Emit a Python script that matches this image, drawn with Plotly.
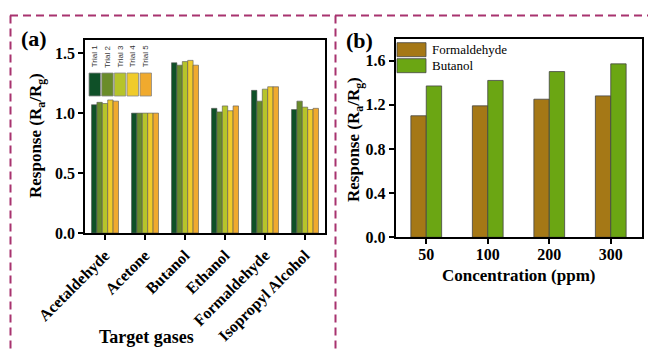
import plotly.graph_objects as go

# ---------------- data ----------------
gases = ["Acetaldehyde", "Acetone", "Butanol", "Ethanol", "Formaldehyde", "Isopropyl Alcohol"]
trial_names = ["Trial 1", "Trial 2", "Trial 3", "Trial 4", "Trial 5"]
trial1 = [1.07, 1.00, 1.42, 1.04, 1.19, 1.03]
trial2 = [1.09, 1.00, 1.40, 1.01, 1.10, 1.10]
trial3 = [1.08, 1.00, 1.43, 1.06, 1.20, 1.05]
trial4 = [1.11, 1.00, 1.44, 1.02, 1.22, 1.03]
trial5 = [1.10, 1.00, 1.40, 1.06, 1.22, 1.04]
trials = [trial1, trial2, trial3, trial4, trial5]
trial_colors = ["#0f5028", "#6a8c2a", "#b6c42a", "#f0cb2a", "#f0aa2e"]

concentrations = ["50", "100", "200", "300"]
formaldehyde = [1.10, 1.19, 1.25, 1.28]
butanol = [1.37, 1.42, 1.50, 1.57]
b_names = ["Formaldehyde", "Butanol"]
b_colors = ["#a57816", "#6ba613"]

W, H = 648, 353
def px(x):
    return x / W
def py(y):
    return 1 - y / H

SERIF = "Liberation Serif, Times New Roman, serif"
fig = go.Figure()

# panel (a) bars
bw_a = 0.135
start_a = -0.3375
for i, (vals, name, col) in enumerate(zip(trials, trial_names, trial_colors)):
    fig.add_trace(go.Bar(
        x=gases, y=vals, name=name, marker=dict(color=col, line=dict(color="#555555", width=0.6)),
        width=bw_a, offset=start_a + i * bw_a, xaxis="x", yaxis="y", showlegend=False))

# panel (b) bars
bw_b = 0.25
for i, (vals, name, col) in enumerate(zip([formaldehyde, butanol], b_names, b_colors)):
    fig.add_trace(go.Bar(
        x=concentrations, y=vals, name=name, marker=dict(color=col, line=dict(color="#444444", width=0.8)),
        width=bw_b, offset=-bw_b + i * bw_b, xaxis="x2", yaxis="y2", showlegend=False))

axis_common = dict(showline=True, linecolor="black", linewidth=1.5, mirror=True,
                   ticks="outside", ticklen=5, tickwidth=1.5, tickcolor="black",
                   showgrid=False, zeroline=False, automargin=False,
                   tickfont=dict(family=SERIF, size=16, color="black", weight="bold"))

fig.update_layout(
    template="none",
    width=W, height=H, margin=dict(l=0, r=0, t=0, b=0, pad=0), autosize=False,
    paper_bgcolor="white", plot_bgcolor="white",
    barmode="overlay", showlegend=False,
    xaxis=dict(domain=[px(85), px(325)], anchor="y", type="category", range=[-0.5, 5.5],
               tickangle=-45, **axis_common),
    yaxis=dict(domain=[py(233), py(40)], anchor="x", range=[0, 1.61], tickvals=[0, 0.5, 1.0, 1.5],
               tickformat=".1f", **axis_common),
    xaxis2=dict(domain=[px(395.5), px(641.5)], anchor="y2", type="category", range=[-0.5, 3.5],
                ticklabelstandoff=-3, **axis_common),
    yaxis2=dict(domain=[py(237.3), py(39)], anchor="x2", range=[0, 1.795], tickvals=[0, 0.4, 0.8, 1.2, 1.6],
                tickformat=".1f", **axis_common),
)

shapes = []
ann = []
# dashed frames
dash_col = "#a8336f"
for (x0, y0, x1, y1) in [(10, 15.5, 648, 15.5), (10.5, 15.5, 10.5, 353), (335.5, 15.5, 335.5, 353)]:
    shapes.append(dict(type="line", xref="paper", yref="paper", x0=px(x0), y0=py(y0), x1=px(x1), y1=py(y1),
                       line=dict(color=dash_col, width=2, dash="8px,5px")))

# legend (a): swatches + rotated labels
sw_x = [89, 101.7, 114.3, 127, 140]
for i, (name, col) in enumerate(zip(trial_names, trial_colors)):
    x0 = sw_x[i]
    shapes.append(dict(type="rect", xref="paper", yref="paper", x0=px(x0), x1=px(x0 + 11.5), y0=py(96), y1=py(73),
                       fillcolor=col, line=dict(color="#888888", width=0.8)))
    ann.append(dict(text=name, xref="paper", yref="paper", x=px(x0 + 5.75), y=py(56.5), showarrow=False,
                    textangle=-90, xanchor="center", yanchor="middle",
                    font=dict(family="Liberation Sans, Arial, sans-serif", size=8, color="#333333")))

# legend (b)
for i, (name, col) in enumerate(zip(b_names, b_colors)):
    top = 42.7 + i * 16
    shapes.append(dict(type="rect", xref="paper", yref="paper", x0=px(397), x1=px(426), y0=py(top + 14), y1=py(top),
                       fillcolor=col, line=dict(color="#444444", width=0.8)))
    ann.append(dict(text=name, xref="paper", yref="paper", x=px(430), y=py(top + 7), showarrow=False,
                    xanchor="left", yanchor="middle", font=dict(family=SERIF, size=13, color="black")))

title_font = dict(family=SERIF, size=17, color="black", weight="bold")
ann += [
    dict(text="(a)", xref="paper", yref="paper", x=px(34), y=py(38), showarrow=False, xanchor="center",
         yanchor="middle", font=dict(family=SERIF, size=22, color="black", weight="bold")),
    dict(text="(b)", xref="paper", yref="paper", x=px(359), y=py(40), showarrow=False, xanchor="center",
         yanchor="middle", font=dict(family=SERIF, size=22, color="black", weight="bold")),
    dict(text="Response (R<sub>a</sub>/R<sub>g</sub>)", xref="paper", yref="paper", x=px(37), y=py(136),
         showarrow=False, textangle=-90, xanchor="center", yanchor="middle", font=title_font),
    dict(text="Response (R<sub>a</sub>/R<sub>g</sub>)", xref="paper", yref="paper", x=px(355), y=py(140),
         showarrow=False, textangle=-90, xanchor="center", yanchor="middle", font=title_font),
    dict(text="Target gases", xref="paper", yref="paper", x=px(146), y=py(337), showarrow=False,
         xanchor="center", yanchor="middle", font=dict(family=SERIF, size=18, color="black", weight="bold")),
    dict(text="Concentration (ppm)", xref="paper", yref="paper", x=px(518), y=py(275), showarrow=False,
         xanchor="center", yanchor="middle", font=title_font),
]

fig.update_layout(shapes=shapes, annotations=ann)
fig.write_html("out.html")
